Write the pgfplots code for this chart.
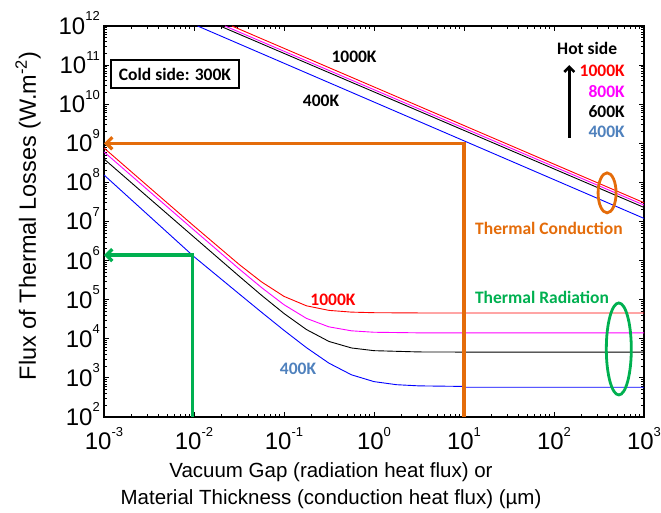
\documentclass[border=0pt]{standalone}
\usepackage{fontspec}
\setmainfont{Liberation Sans}
\newfontfamily\cali{Carlito}
\usepackage{pgfplots}
\pgfplotsset{compat=1.18}
\usetikzlibrary{arrows.meta}
\definecolor{orng}{HTML}{E46C0A}
\definecolor{grn}{HTML}{00B050}
\definecolor{stl}{HTML}{4F81BD}
\definecolor{mag}{HTML}{FF00FF}
\definecolor{rd}{HTML}{FF0000}
\definecolor{bl}{HTML}{0000FF}
\newcommand{\pw}[1]{10\raisebox{13.5pt}{\fontsize{13}{13}\selectfont #1}}
\newcommand{\ann}{\cali\bfseries\fontsize{17.5}{18}\selectfont}
\begin{document}
\begin{tikzpicture}
\begin{axis}[
  xmode=log, ymode=log,
  scale only axis, width=540pt, height=391pt,
  xmin=1e-3, xmax=1e3, ymin=1e2, ymax=1e12,
  xtick={1e-3,1e-2,1e-1,1,10,100,1000},
  xticklabels={\pw{-3},\pw{-2},\pw{-1},\pw{0},\pw{1},\pw{2},\pw{3}},
  ytick={1e2,1e3,1e4,1e5,1e6,1e7,1e8,1e9,1e10,1e11,1e12},
  yticklabels={\pw{2},\pw{3},\pw{4},\pw{5},\pw{6},\pw{7},\pw{8},\pw{9},\pw{10},\pw{11},\pw{12}},
  tick label style={font=\fontsize{24}{24}\selectfont},
  xticklabel style={anchor=base, inner sep=0pt, yshift=-33pt},
  yticklabel style={anchor=base east, inner sep=0pt, xshift=-4pt, yshift=-8.5pt},
  tick align=inside,
  major tick length=5pt, minor tick length=3pt,
  tick style={black, line width=0.8pt},
  axis line style={line width=1.4pt},
  xlabel={Vacuum Gap (radiation heat flux) or\\Material Thickness (conduction heat flux) (µm)},
  xlabel style={font=\fontsize{20.5}{27}\selectfont, align=center, anchor=north, inner sep=0pt,
    at={(axis description cs:0.5,0)}, yshift=-45pt, xshift=-43pt},
  ylabel={Flux of Thermal Losses (W.m\textsuperscript{-2})},
  ylabel style={font=\fontsize{23.5}{24}\selectfont, anchor=center, inner sep=0pt,
    at={(axis description cs:-0.1407,0.514)}},
]
% conduction (straight lines)
\addplot[rd, line width=0.9pt] coordinates {(0.0264,1e12) (1000,3.02e7)};
\addplot[mag, line width=0.9pt] coordinates {(0.0221,1e12) (1000,2.63e7)};
\addplot[black, line width=0.9pt] coordinates {(0.01945,1e12) (1000,2.29e7)};
\addplot[bl, line width=0.9pt] coordinates {(0.01096,1e12) (1000,1.20e7)};
% radiation
\addplot[rd, line width=0.9pt] coordinates {
 (1e-3,7.59e8) (3.16e-3,7.59e7) (1e-2,7.63e6) (3.16e-2,8.04e5) (5.62e-2,2.86e5)
 (0.1,1.216e5) (0.178,6.97e4) (0.316,5.33e4) (0.562,4.81e4) (1,4.65e4)
 (3.16,4.58e4) (10,4.57e4) (100,4.57e4) (1000,4.57e4)};
\addplot[mag, line width=0.9pt] coordinates {
 (1e-3,6.03e8) (3.16e-3,6.03e7) (1e-2,6.04e6) (3.16e-2,6.17e5) (5.62e-2,2.05e5)
 (0.1,7.44e4) (0.178,3.32e4) (0.316,2.02e4) (0.562,1.60e4) (1,1.47e4)
 (3.16,1.42e4) (10,1.413e4) (100,1.413e4) (1000,1.413e4)};
\addplot[black, line width=0.9pt] coordinates {
 (1e-3,3.98e8) (3.16e-3,3.98e7) (1e-2,3.99e6) (3.16e-2,4.03e5) (5.62e-2,1.30e5)
 (0.1,4.44e4) (0.178,1.72e4) (0.316,8552) (0.562,5830) (1,4969)
 (3.16,4611) (10,4575) (100,4571) (1000,4571)};
\addplot[bl, line width=0.9pt] coordinates {
 (1e-3,1.55e8) (3.16e-3,1.40e7) (1e-2,1.26e6) (3.16e-2,1.42e5) (5.62e-2,4.79e4)
 (0.1,1.645e4) (0.178,5912) (0.316,2381) (0.562,1199) (1,803) (1.78,670)
 (3.16,625) (10,605) (10.5,575) (100,575) (1000,575)};
% arrows
\draw[orng, line width=3.3pt, -{Straight Barb[length=6pt,width=12pt]}]
  (axis cs:10,1e2) -- (axis cs:10,1e9) -- (axis cs:1e-3,1e9);
\draw[grn, line width=3.3pt, -{Straight Barb[length=6pt,width=12pt]}]
  (axis cs:0.0096,1e2) -- (axis cs:0.0096,1.38e6) -- (axis cs:1e-3,1.38e6);
\draw[orng, line width=2.8pt] (axis cs:389,5.4e7) ellipse [x radius=9pt, y radius=20pt];
\draw[grn, line width=2.8pt] (axis cs:525,5500) ellipse [x radius=12.5pt, y radius=46pt];
% annotations
\node[draw, line width=1.2pt, minimum width=128pt, minimum height=28pt, inner sep=0pt, font=\ann]
  at (axis cs:6.15e-3,5.9e10) {Cold side: 300K};
\node[font=\ann] at (axis cs:0.60,1.6e11) {1000K};
\node[font=\ann] at (axis cs:0.258,1.2e10) {400K};
\node[font=\ann, text=orng] at (axis cs:87.9,6.5e6) {Thermal Conduction};
\node[font=\ann, text=grn] at (axis cs:73.6,1.17e5) {Thermal Radiation};
\node[font=\ann, text=rd] at (axis cs:0.35,9.8e4) {1000K};
\node[font=\ann, text=stl] at (axis cs:0.143,1.7e3) {400K};
\node[font=\ann, anchor=base west, inner sep=0pt] at (axis cs:108,1.82e11) {Hot side};
\node[font=\ann, anchor=base east, inner sep=0pt, text=rd] at (axis cs:615,5.0e10) {1000K};
\node[font=\ann, anchor=base east, inner sep=0pt, text=mag] at (axis cs:615,1.51e10) {800K};
\node[font=\ann, anchor=base east, inner sep=0pt] at (axis cs:615,4.68e9) {600K};
\node[font=\ann, anchor=base east, inner sep=0pt, text=stl] at (axis cs:615,1.38e9) {400K};
\draw[line width=2.6pt, -{Straight Barb[length=5pt,width=10pt]}]
  (axis cs:148,1.38e9) -- (axis cs:148,1e11);
\end{axis}
\path ([shift={(-104pt,-96pt)}]current axis.south west) rectangle ++(661pt,513pt);
\end{tikzpicture}
\end{document}
